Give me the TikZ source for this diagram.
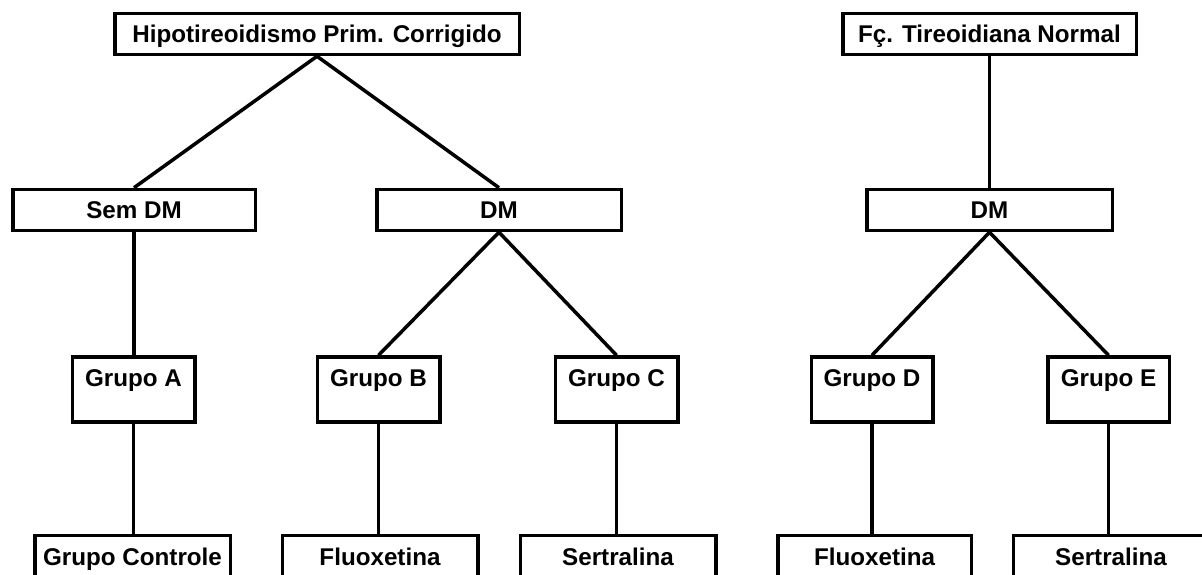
\documentclass[tikz,border=0pt]{standalone}
\usepackage{fontspec}
\setmainfont{Liberation Sans}
\usepackage{tikz}

\begin{document}
\begin{tikzpicture}[x=1pt,y=-1pt,
  box/.style={draw,line width=3.5pt,font=\bfseries\fontsize{24.2}{28}\selectfont,
    inner xsep=0pt,inner ysep=12pt,text height=17pt,text depth=0pt},
  grupo/.style={box,inner ysep=12.5pt,text depth=23pt},
  link/.style={line width=3.5pt}]
\useasboundingbox (0,0) rectangle (1202,575);
\clip (0,0) rectangle (1202,575);

% left tree
\node[box,minimum width=404.5pt] (hipo) at (317,34) {Hipotireoidismo Prim. Corrigido};
\node[box,minimum width=242.5pt] (semdm) at (134,210) {Sem DM};
\node[box,minimum width=244.5pt] (dmL) at (499,210) {DM};
\node[grupo,minimum width=122.5pt] (grA) at (133.5,389.5) {Grupo A};
\node[grupo,minimum width=122.5pt] (grB) at (378.5,389.5) {Grupo B};
\node[grupo,minimum width=122.5pt] (grC) at (616.5,389.5) {Grupo C};
\node[grupo,minimum width=195.5pt] (ctrl) at (132.5,568) {Grupo Controle};
\node[grupo,minimum width=195.5pt] (fluL) at (380,568) {Fluoxetina};
\node[grupo,minimum width=195.5pt] (serL) at (618,568) {Sertralina};

\draw[link] (hipo.south) -- (semdm.north);
\draw[link] (hipo.south) -- (dmL.north);
\draw[link] (semdm.south) -- (semdm.south |- grA.north);
\draw[link] (dmL.south) -- (grB.north);
\draw[link] (dmL.south) -- (grC.north);
\draw[link] (grA.south) -- (grA.south |- ctrl.north);
\draw[link] (grB.south) -- (grB.south |- fluL.north);
\draw[link] (grC.south) -- (grC.south |- serL.north);

% right tree
\node[box,minimum width=293.5pt] (fcn) at (989.5,34) {Fç. Tireoidiana Normal};
\node[box,minimum width=245.5pt] (dmR) at (989.5,210) {DM};
\node[grupo,minimum width=121.5pt] (grD) at (872,389.5) {Grupo D};
\node[grupo,minimum width=121.5pt] (grE) at (1108.5,389.5) {Grupo E};
\node[grupo,minimum width=193.5pt] (fluR) at (874.5,568) {Fluoxetina};
\node[grupo,minimum width=195.5pt] (serR) at (1111,568) {Sertralina};

\draw[link] (fcn.south) -- (dmR.north);
\draw[link] (dmR.south) -- (grD.north);
\draw[link] (dmR.south) -- (grE.north);
\draw[link] (grD.south) -- (grD.south |- fluR.north);
\draw[link] (grE.south) -- (grE.south |- serR.north);

\end{tikzpicture}
\end{document}
